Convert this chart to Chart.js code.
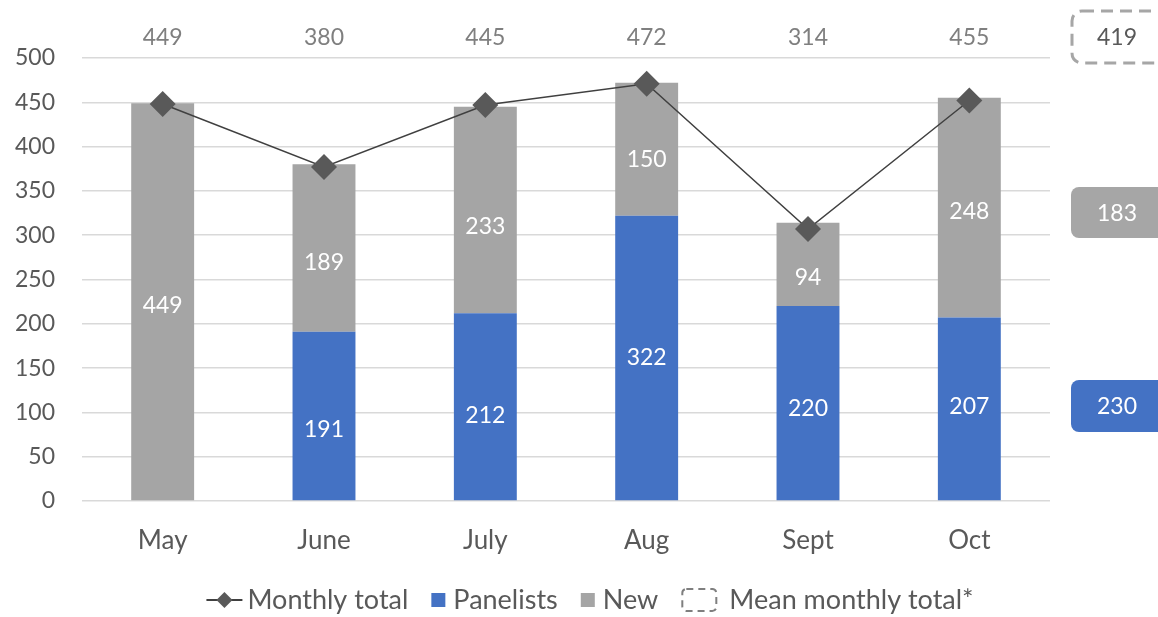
<!DOCTYPE html>
<html><head><meta charset="utf-8">
<script src="https://cdn.jsdelivr.net/npm/chart.js@4"></script>
<style>html,body{margin:0;padding:0;background:#fff;overflow:hidden}</style>
</head><body>
<canvas id="c" width="1158" height="617" style="width:1158px;height:617px;display:block"></canvas>
<script>
const months = ['May', 'June', 'July', 'Aug', 'Sept', 'Oct'];
const panelists = [0, 191, 212, 322, 220, 207];
const newcomers = [449, 189, 233, 150, 94, 248];
const monthlyTotals = [449, 380, 445, 472, 314, 455];
const lineTotals = [448, 377, 447, 471, 307, 452];
const yTicks = [0, 50, 100, 150, 200, 250, 300, 350, 400, 450, 500];
const meanMonthlyTotal = 419;
const meanNew = 183;
const meanPanelists = 230;

// style: vertical nudge (px) of in-bar labels, as placed in the original
const panelistNudge = [0, 14, 9, 0, 5, -2];
const newNudge = [4, 15, 17, 10, 13, 4];

const FONT = 'Lato, "Open Sans", sans-serif';
const BLUE = '#4472c4', GRAY = '#a5a5a5', DARK = '#595959', LINE = '#404040';

const labelPlugin = {
  id: 'labels',
  afterDatasetsDraw(chart) {
    const ctx = chart.ctx;
    ctx.save();
    ctx.font = '23px ' + FONT;
    ctx.textAlign = 'center';
    ctx.textBaseline = 'middle';
    ctx.fillStyle = '#ffffff';
    chart.data.datasets.forEach((ds, di) => {
      if (ds.type === 'line') return;
      const nudge = ds.label === 'Panelists' ? panelistNudge : newNudge;
      const meta = chart.getDatasetMeta(di);
      meta.data.forEach((bar, i) => {
        const v = ds.data[i];
        if (!v) return;
        ctx.fillText(String(v), bar.x, (bar.y + bar.base) / 2 + nudge[i]);
      });
    });
    const xs = chart.scales.x;
    ctx.fillStyle = '#7f7f7f';
    monthlyTotals.forEach((t, i) => {
      ctx.fillText(String(t), xs.getPixelForValue(i), chart.chartArea.top - 20);
    });
    ctx.restore();
  },
  afterDraw(chart) {
    const ctx = chart.ctx;
    const ca = chart.chartArea;
    ctx.save();
    const bx = ca.right + 22, bw = 110, cx = bx + 45;
    ctx.font = '23px ' + FONT;
    ctx.textAlign = 'center';
    ctx.textBaseline = 'middle';
    ctx.beginPath();
    ctx.setLineDash([12, 7]);
    ctx.lineWidth = 3;
    ctx.strokeStyle = '#a6a6a6';
    ctx.roundRect(bx, 11, bw, 52, 10);
    ctx.stroke();
    ctx.setLineDash([]);
    ctx.fillStyle = DARK;
    ctx.fillText(String(meanMonthlyTotal), cx, 38);
    ctx.beginPath();
    ctx.fillStyle = '#a6a6a6';
    ctx.roundRect(bx - 1, 187, bw, 51, 8);
    ctx.fill();
    ctx.fillStyle = '#fff';
    ctx.fillText(String(meanNew), cx, 214);
    ctx.beginPath();
    ctx.fillStyle = BLUE;
    ctx.roundRect(bx - 1, 380, bw, 52, 8);
    ctx.fill();
    ctx.fillStyle = '#fff';
    ctx.fillText(String(meanPanelists), cx, 407);

    // legend
    const ly = 600;
    ctx.font = '27px ' + FONT;
    ctx.textAlign = 'left';
    const items = [
      {kind: 'line', text: 'Monthly total', sw: 36, gap: 5},
      {kind: 'sq', color: BLUE, text: 'Panelists', sw: 14, gap: 8},
      {kind: 'sq', color: GRAY, text: 'New', sw: 14, gap: 8},
      {kind: 'dash', text: 'Mean monthly total*', sw: 36, gap: 12}
    ];
    const between = 23;
    let total = 0;
    items.forEach((it, k) => {
      it.tw = ctx.measureText(it.text).width;
      total += it.sw + it.gap + it.tw + (k ? between : 0);
    });
    let x = 590 - total / 2;
    items.forEach((it, k) => {
      if (k) x += between;
      if (it.kind === 'line') {
        ctx.beginPath();
        ctx.strokeStyle = LINE; ctx.lineWidth = 2;
        ctx.moveTo(x, ly); ctx.lineTo(x + it.sw, ly); ctx.stroke();
        ctx.beginPath();
        ctx.fillStyle = DARK;
        const c = x + it.sw / 2, r = 8;
        ctx.moveTo(c, ly - r); ctx.lineTo(c + r, ly); ctx.lineTo(c, ly + r); ctx.lineTo(c - r, ly); ctx.closePath();
        ctx.fill();
      } else if (it.kind === 'sq') {
        ctx.fillStyle = it.color;
        ctx.fillRect(x, ly - 7, 14, 14);
      } else {
        ctx.beginPath();
        ctx.setLineDash([7, 5]);
        ctx.lineWidth = 2;
        ctx.strokeStyle = '#7f7f7f';
        ctx.roundRect(x + 1, ly - 11, it.sw - 2, 22, 4);
        ctx.stroke();
        ctx.setLineDash([]);
      }
      x += it.sw + it.gap;
      ctx.fillStyle = DARK;
      ctx.textBaseline = 'middle';
      ctx.fillText(it.text, x, ly);
      x += it.tw;
    });
    ctx.restore();
  }
};

new Chart(document.getElementById('c'), {
  type: 'bar',
  data: {
    labels: months,
    datasets: [
      {
        type: 'line', label: 'Monthly total', data: lineTotals, order: 1,
        borderColor: LINE, borderWidth: 1.5, pointStyle: 'rectRot', pointRadius: 13,
        pointBackgroundColor: DARK, pointBorderWidth: 0, tension: 0
      },
      { label: 'Panelists', data: panelists, backgroundColor: BLUE, order: 2, stack: 's',
        barPercentage: 0.39, categoryPercentage: 1 },
      { label: 'New', data: newcomers, backgroundColor: GRAY, order: 3, stack: 's',
        barPercentage: 0.39, categoryPercentage: 1 }
    ]
  },
  options: {
    responsive: false,
    animation: false,
    devicePixelRatio: 1,
    layout: { padding: { top: 58, right: 108, left: 0, bottom: 0 } },
    plugins: { legend: { display: false }, tooltip: { enabled: false } },
    scales: {
      x: {
        stacked: true,
        grid: { display: false },
        border: { display: false },
        ticks: { color: DARK, font: { family: FONT, size: 26 }, padding: 16 },
        afterFit: s => { s.height = 116; }
      },
      y: {
        stacked: true, min: 0, max: 500,
        afterBuildTicks: s => { s.ticks = yTicks.map(v => ({ value: v })); },
        grid: { color: '#d9d9d9', lineWidth: 1.5, drawTicks: false },
        border: { display: false },
        ticks: { color: DARK, font: { family: FONT, size: 23 }, padding: 27 },
        afterFit: s => { s.width = 82; }
      }
    }
  },
  plugins: [labelPlugin]
});
</script>
</body></html>
